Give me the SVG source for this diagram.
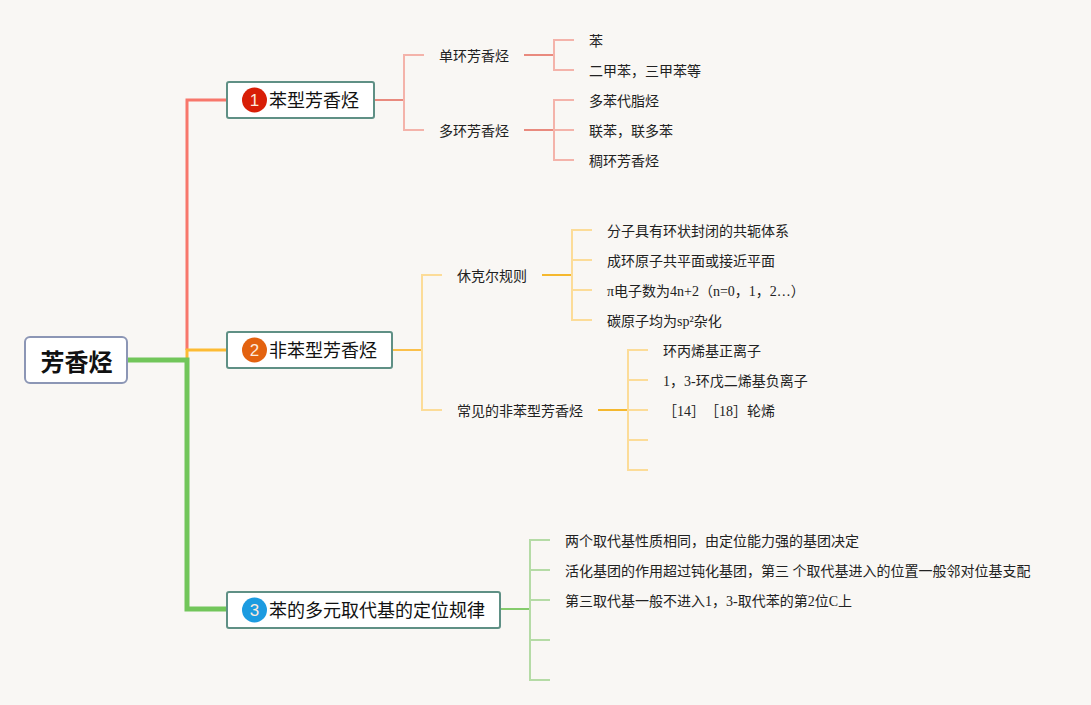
<svg xmlns="http://www.w3.org/2000/svg" width="1091" height="705" viewBox="0 0 1091 705">
<style>
.c{fill:none;stroke-linejoin:miter}
.t{font-family:"Liberation Serif","Noto Sans CJK SC",serif;font-size:14px;fill:#222}
.j{font-family:"Noto Sans CJK SC",sans-serif}
.m{font-family:"Liberation Serif","Noto Sans CJK SC",serif;font-size:18px;fill:#111}
.n{fill:#fff;stroke:#5f9085;stroke-width:2}
.b{font-family:"Liberation Sans",sans-serif;font-size:17px;fill:#fde9dc;text-anchor:middle}
.r1{stroke:#f8776b;stroke-width:3}.r2{stroke:#f4b3aa;stroke-width:2}.r3{stroke:#e98a7e;stroke-width:2}
.o1{stroke:#fdbb33;stroke-width:3}.o2{stroke:#fcdc98;stroke-width:2}.o3{stroke:#fbc04a;stroke-width:2}.o4{stroke:#f5b82e;stroke-width:2}
.g1{stroke:#72c65a;stroke-width:5}.g2{stroke:#b5dba6;stroke-width:2}.g3{stroke:#85cb6c;stroke-width:2}
</style>
<rect width="1091" height="705" fill="#f9f7f4"/>
<g id="connectors">
<path class="c r1" d="M187 350V100H227"/>
<path class="c o1" d="M187 360V350H227"/>
<path class="c g1" d="M127 360H187V609H227"/>
<path class="c r3" d="M374 100H404"/>
<path class="c r2" d="M424 55H404V130H424"/>
<path class="c r3" d="M524 55H554M524 130H554"/>
<path class="c r2" d="M574 40H554V70H574M574 100H554V160H574M554 130H574"/>
<path class="c o3" d="M392 350H422"/>
<path class="c o2" d="M442 275H422V410H442"/>
<path class="c o4" d="M542 275H572M598 410H628"/>
<path class="c o2" d="M592 230H572V320H592M572 260H592M572 290H592"/>
<path class="c o2" d="M648 350H628V470H648M628 380H648M628 410H648M628 440H648"/>
<path class="c g3" d="M500 609H530"/>
<path class="c g2" d="M550 540H530V680H550M530 570H550M530 600H550M530 640H550"/>
</g>
<g id="root"><rect x="25" y="337" width="102" height="46" rx="5" fill="#fff" stroke="#8c96b5" stroke-width="2"/><text x="76.500" y="371" text-anchor="middle" font-family="'Noto Sans CJK SC',sans-serif" font-size="24" font-weight="700" fill="#111">芳香烃</text></g>
<g id="n1"><rect class="n" x="227" y="82" width="147" height="36" rx="2"/><circle cx="254.500" cy="100" r="12.500" fill="#d81e06"/><text class="b" x="254.500" y="106">1</text><text class="m" x="269" y="107">苯型芳香烃</text></g>
<g id="n2"><rect class="n" x="227" y="332" width="165" height="36" rx="2"/><circle cx="254.500" cy="350" r="12.500" fill="#e3620f"/><text class="b" x="254.500" y="356">2</text><text class="m" x="269" y="357">非苯型芳香烃</text></g>
<g id="n3"><rect class="n" x="227" y="592" width="273" height="36" rx="2"/><circle cx="254.500" cy="610" r="12.500" fill="#1c9be0"/><text class="b" x="254.500" y="616">3</text><text class="m" x="269" y="617">苯的多元取代基的定位规律</text></g>
<g id="n1-1"><text class="t" x="439" y="61">单环芳香烃</text></g>
<g id="n1-2"><text class="t" x="439" y="136">多环芳香烃</text></g>
<g id="n1-1-1"><text class="t" x="589" y="46">苯</text></g>
<g id="n1-1-2"><text class="t" x="589" y="76">二甲苯，三甲苯等</text></g>
<g id="n1-2-1"><text class="t" x="589" y="106">多苯代脂烃</text></g>
<g id="n1-2-2"><text class="t" x="589" y="136">联苯，联多苯</text></g>
<g id="n1-2-3"><text class="t" x="589" y="166">稠环芳香烃</text></g>
<g id="n2-1"><text class="t" x="457" y="281">休克尔规则</text></g>
<g id="n2-2"><text class="t" x="457" y="416">常见的非苯型芳香烃</text></g>
<g id="n2-1-1"><text class="t" x="607" y="236">分子具有环状封闭的共轭体系</text></g>
<g id="n2-1-2"><text class="t" x="607" y="266">成环原子共平面或接近平面</text></g>
<g id="n2-1-3"><text class="t" x="607" y="296">π电子数为4n+2（n=0，1，2…）</text></g>
<g id="n2-1-4"><text class="t" x="607" y="326">碳原子均为sp²杂化</text></g>
<g id="n2-2-1"><text class="t" x="663" y="356">环丙烯基正离子</text></g>
<g id="n2-2-2"><text class="t" x="663" y="386">1，3-环戊二烯基负离子</text></g>
<g id="n2-2-3"><text class="t" x="663" y="416"><tspan class="j">［</tspan><tspan x="677">14</tspan><tspan class="j" x="691">］</tspan><tspan class="j" x="705">［</tspan><tspan x="719">18</tspan><tspan class="j" x="733">］</tspan><tspan x="747">轮烯</tspan></text></g>
<g id="n3-1"><text class="t" x="565" y="546">两个取代基性质相同，由定位能力强的基团决定</text></g>
<g id="n3-2"><text class="t" x="565" y="576">活化基团的作用超过钝化基团，第三 个取代基进入的位置一般邻对位基支配</text></g>
<g id="n3-3"><text class="t" x="565" y="606">第三取代基一般不进入1，3-取代苯的第2位C上</text></g>
</svg>
